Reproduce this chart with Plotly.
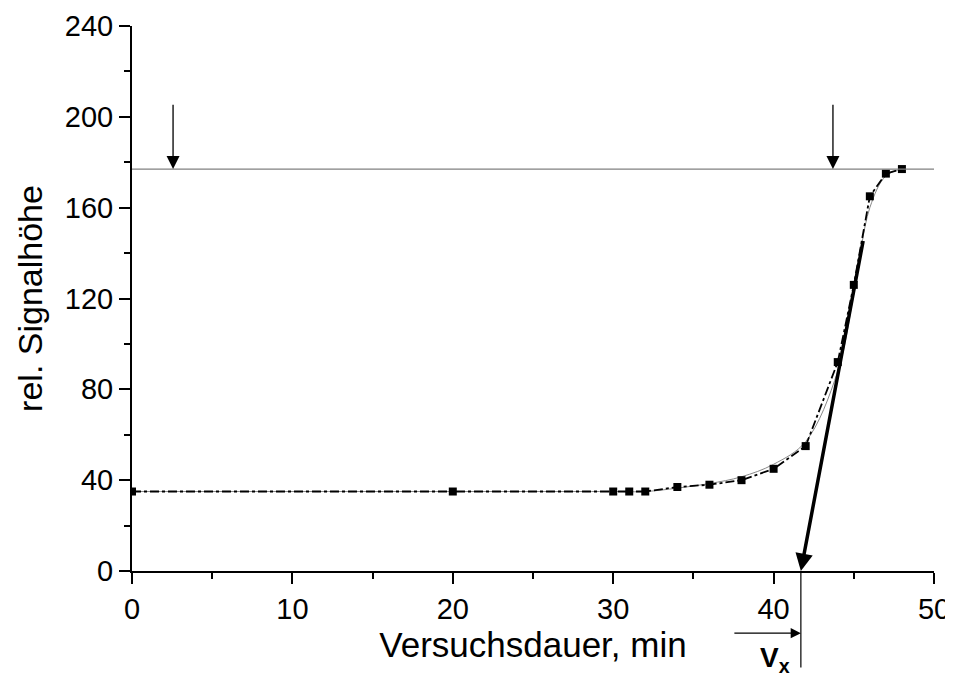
import plotly.graph_objects as go

# data
time_min = [0, 20, 30, 31, 32, 34, 36, 38, 40, 42, 44, 45, 46, 47, 48]
signal = [35, 35, 35, 35, 35, 37, 38, 40, 45, 55, 92, 126, 165, 175, 177]
fit_x = [0, 20, 30, 32, 34, 36, 38, 40, 42, 44, 45, 46, 47, 48]
fit_y = [35, 35, 35, 35, 36.5, 38.5, 41.5, 47, 57, 88, 122, 160, 174, 177]
plateau = 177
marker_times = [2.56, 43.7]
tangent_x = [45.6, 41.7]
tangent_y = [146, 0]
vx = 41.7

fig = go.Figure()
fig.add_trace(go.Scatter(x=fit_x, y=fit_y, mode="lines", line=dict(color="#888888", width=1, shape="spline"),
                         showlegend=False, hoverinfo="skip"))
fig.add_trace(go.Scatter(x=time_min, y=signal, mode="lines+markers",
                         line=dict(color="black", width=1.8, dash="dashdot"),
                         marker=dict(symbol="square", size=8, color="black"), showlegend=False))
fig.add_trace(go.Scatter(x=[0, 50], y=[plateau, plateau], mode="lines",
                         line=dict(color="#808080", width=1.2), showlegend=False, hoverinfo="skip"))

ann = []
for t in marker_times:
    ann.append(dict(x=t, y=plateau, ax=t, ay=206, axref="x", ayref="y", xref="x", yref="y",
                    showarrow=True, arrowhead=2, arrowsize=2.0, arrowwidth=1.3, arrowcolor="black", text=""))
# tangent arrow
ann.append(dict(x=tangent_x[1], y=tangent_y[1], ax=tangent_x[0], ay=tangent_y[0], axref="x", ayref="y",
                xref="x", yref="y", showarrow=True, arrowhead=2, arrowsize=1.0, arrowwidth=3.5,
                arrowcolor="black", text=""))
# vertical thin line below axis
ann.append(dict(x=vx, y=0, xref="x", yref="y", ax=0, ay=98, showarrow=True, arrowhead=0,
                arrowwidth=1.2, arrowcolor="black", text=""))
# horizontal arrow
ann.append(dict(x=vx, y=-0.114, xref="x", yref="paper", ax=-68, ay=0, showarrow=True, arrowhead=2,
                arrowsize=1.7, arrowwidth=1.2, arrowcolor="black", text="", standoff=0))
ann.append(dict(x=39.0, y=-0.127, xref="x", yref="paper", xanchor="left", yanchor="top", showarrow=False,
                text="<b>V</b><sub><b>x</b></sub>", font=dict(size=28, color="black")))
fig.update_layout(annotations=ann)

axis_common = dict(showline=True, linewidth=2, linecolor="black", ticks="outside", ticklen=11, tickwidth=2,
                   tickcolor="black", showgrid=False, zeroline=False, automargin=False,
                   tickfont=dict(size=29, color="black", family="Liberation Sans, Arial"))
fig.update_xaxes(range=[0, 50], dtick=10, tick0=0,
                 minor=dict(dtick=5, ticks="outside", ticklen=6, tickwidth=2, tickcolor="black"),
                 title=dict(text="Versuchsdauer, min", font=dict(size=35, color="black"), standoff=8),
                 **axis_common)
fig.update_yaxes(range=[0, 240], dtick=40, tick0=0,
                 minor=dict(dtick=20, ticks="outside", ticklen=6, tickwidth=2, tickcolor="black"),
                 title=dict(text="rel. Signalhöhe", font=dict(size=34, color="black"), standoff=12),
                 **axis_common)
fig.update_layout(width=953, height=675, margin=dict(l=124, r=27, t=18, b=112, autoexpand=False),
                  plot_bgcolor="white", paper_bgcolor="white",
                  font=dict(family="Liberation Sans, Arial", color="black"))
fig.write_html("out.html")
